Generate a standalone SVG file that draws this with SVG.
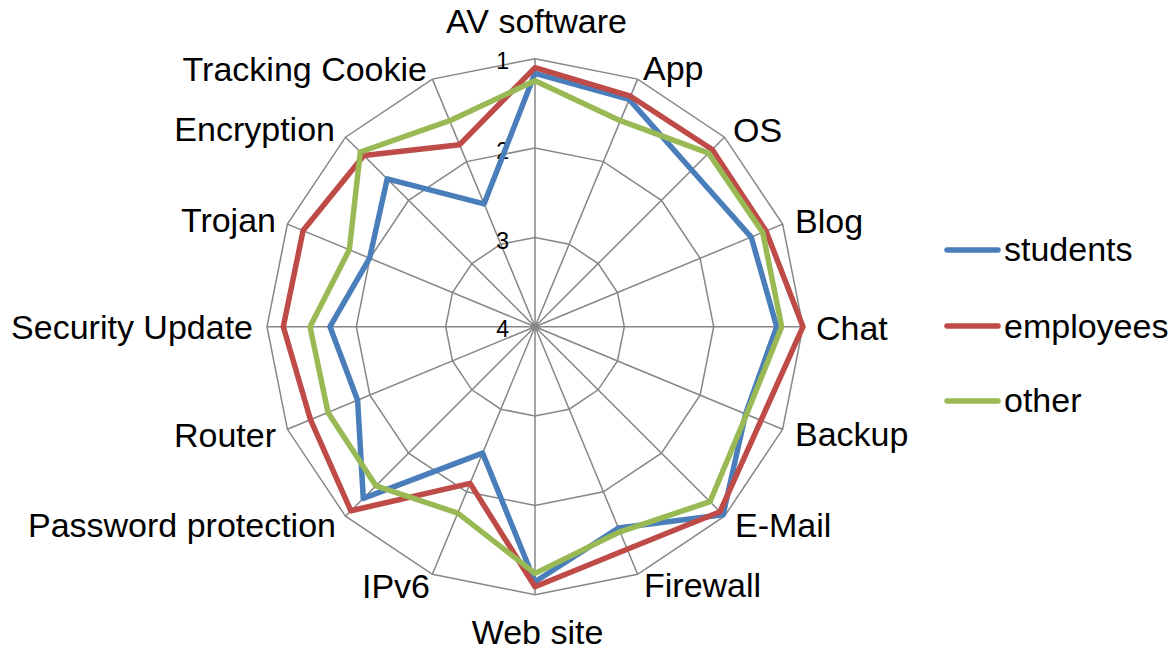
<svg xmlns="http://www.w3.org/2000/svg" width="1168" height="649" viewBox="0 0 1168 649">
<style>
.grid{fill:none;stroke:#868686;stroke-width:1.5}
.ser{fill:none;stroke-width:5.5;stroke-linejoin:round}
.lbl{font-family:"Liberation Sans",Arial,sans-serif;font-size:34px;fill:#000}
.tick{font-family:"Liberation Sans",Arial,sans-serif;font-size:23px;fill:#000;text-anchor:end}
.leg{stroke-width:5.5;stroke-linecap:round}
</style>
<rect width="1168" height="649" fill="#fff"/>
<g id="grid">
<polygon class="grid" points="535,58.7 637.6,79.1 724.5,137.2 782.6,224.1 803,326.7 782.6,429.3 724.5,516.2 637.6,574.3 535,594.7 432.4,574.3 345.5,516.2 287.4,429.3 267,326.7 287.4,224.1 345.5,137.2 432.4,79.1"/>
<polygon class="grid" points="535,148 603.4,161.6 661.4,200.3 700.1,258.3 713.7,326.7 700.1,395.1 661.4,453.1 603.4,491.8 535,505.4 466.6,491.8 408.6,453.1 369.9,395.1 356.3,326.7 369.9,258.3 408.6,200.3 466.6,161.6"/>
<polygon class="grid" points="535,237.4 569.2,244.2 598.1,263.6 617.5,292.5 624.3,326.7 617.5,360.9 598.1,389.8 569.2,409.2 535,416 500.8,409.2 471.9,389.8 452.5,360.9 445.7,326.7 452.5,292.5 471.9,263.6 500.8,244.2"/>
<path class="grid" d="M535,326.7L535,58.7M535,326.7L637.6,79.1M535,326.7L724.5,137.2M535,326.7L782.6,224.1M535,326.7L803,326.7M535,326.7L782.6,429.3M535,326.7L724.5,516.2M535,326.7L637.6,574.3M535,326.7L535,594.7M535,326.7L432.4,574.3M535,326.7L345.5,516.2M535,326.7L287.4,429.3M535,326.7L267,326.7M535,326.7L287.4,224.1M535,326.7L345.5,137.2M535,326.7L432.4,79.1"/>
</g>
<g id="ticks">
<text class="tick" x="509" y="69">1</text>
<text class="tick" x="509" y="159">2</text>
<text class="tick" x="509" y="249">3</text>
<text class="tick" x="509" y="337">4</text>
</g>
<g id="series">
<polygon id="students" class="ser" stroke="#4A7EBB" points="535,73.3 629.1,99.4 691.7,170 751.2,237.1 776.7,326.7 745.6,414 723.1,514.8 618.4,528.1 535,581.7 482.6,453.1 363.3,498.4 357.6,400.2 330,326.7 369.6,258.2 387.2,178.9 484.1,203.8"/>
<polygon id="employees" class="ser" stroke="#BE4B48" points="535,67.7 630.5,96.2 712.2,149.5 766,231 803,326.7 761,420.3 720,511.7 627.2,549.2 535,586.7 470.1,483.4 350.9,510.8 310.5,419.7 283.3,326.7 303.1,230.6 363.9,155.6 459.6,144.7"/>
<polygon id="other" class="ser" stroke="#98B954" points="535,80.7 620.3,120.7 708.6,153.1 762.7,232.4 781.7,326.7 746.6,414.3 710,501.7 620,531.8 535,573.4 457.8,513.1 375.9,485.8 328,412.4 310,326.7 349.3,249.8 360.3,152 449.7,120.7"/>
</g>
<g id="labels" class="lbl">
<text x="536.5" y="33" text-anchor="middle">AV software</text>
<text x="643" y="80">App</text>
<text x="733" y="142">OS</text>
<text x="795" y="233">Blog</text>
<text x="816" y="340">Chat</text>
<text x="795" y="446">Backup</text>
<text x="735" y="537">E-Mail</text>
<text x="644" y="597">Firewall</text>
<text x="537.5" y="644" text-anchor="middle">Web site</text>
<text x="430" y="598" text-anchor="end">IPv6</text>
<text x="336" y="537" text-anchor="end">Password protection</text>
<text x="276" y="447" text-anchor="end">Router</text>
<text x="253" y="339" text-anchor="end">Security Update</text>
<text x="276" y="232" text-anchor="end">Trojan</text>
<text x="335" y="141" text-anchor="end">Encryption</text>
<text x="427" y="81" text-anchor="end">Tracking Cookie</text>
</g>
<g id="legend">
<line class="leg" x1="947" y1="250" x2="998" y2="250" stroke="#4A7EBB"/>
<line class="leg" x1="947" y1="326" x2="998" y2="326" stroke="#BE4B48"/>
<line class="leg" x1="947" y1="401" x2="998" y2="401" stroke="#98B954"/>
<text class="lbl" x="1004" y="261">students</text>
<text class="lbl" x="1004" y="338">employees</text>
<text class="lbl" x="1004" y="412">other</text>
</g>
</svg>
